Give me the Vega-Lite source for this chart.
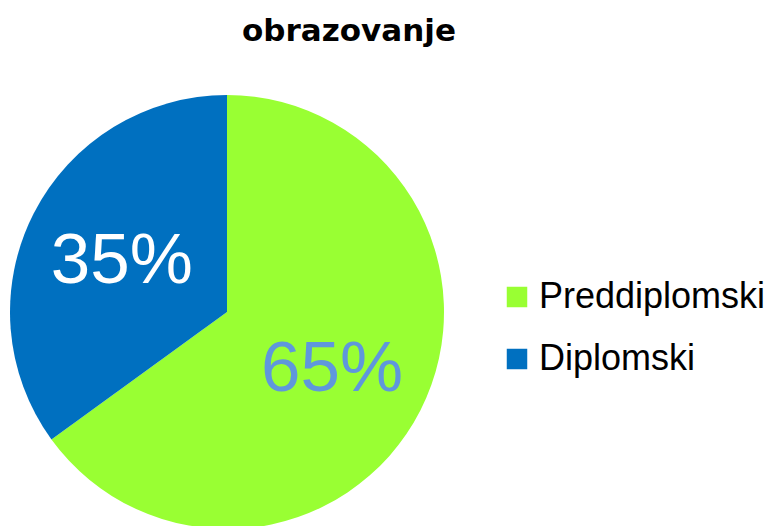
{
  "$schema": "https://vega.github.io/schema/vega-lite/v6.json",
  "autosize": "none",
  "width": 434,
  "height": 434,
  "padding": {"left": 10, "top": 95, "right": 327, "bottom": 0},
  "background": "white",
  "view": {"stroke": null},
  "title": {
    "text": "obrazovanje",
    "font": "DejaVu Sans",
    "fontSize": 31,
    "fontWeight": "bold",
    "color": "black",
    "anchor": "middle",
    "frame": "group",
    "baseline": "alphabetic",
    "offset": 23,
    "dx": 122
  },
  "data": {
    "values": [
      {"kategorija": "Preddiplomski", "udio": 65, "oznaka": "65%", "red": 1},
      {"kategorija": "Diplomski", "udio": 35, "oznaka": "35%", "red": 2}
    ]
  },
  "encoding": {
    "theta": {"field": "udio", "type": "quantitative", "stack": true},
    "order": {"field": "red", "type": "quantitative"}
  },
  "layer": [
    {
      "mark": {"type": "arc", "outerRadius": 217},
      "encoding": {
        "color": {
          "field": "kategorija",
          "type": "nominal",
          "scale": {"domain": ["Preddiplomski", "Diplomski"], "range": ["#99ff33", "#0070c0"]},
          "legend": {
            "title": null,
            "orient": "none",
            "legendX": 489,
            "legendY": 184,
            "symbolType": "square",
            "symbolSize": 420,
            "symbolStrokeWidth": 0,
            "labelFont": "Liberation Sans",
            "labelFontSize": 36,
            "labelColor": "black",
            "labelOffset": 4,
            "rowPadding": 26,
            "labelLimit": 400
          }
        }
      }
    },
    {
      "mark": {"type": "text", "radius": 118, "font": "Liberation Sans", "fontSize": 71, "baseline": "middle", "align": "center", "dy": 4},
      "encoding": {
        "text": {"field": "oznaka"},
        "color": {
          "condition": {"test": "datum.kategorija === 'Diplomski'", "value": "white"},
          "value": "#5f97dc"
        }
      }
    }
  ]
}
